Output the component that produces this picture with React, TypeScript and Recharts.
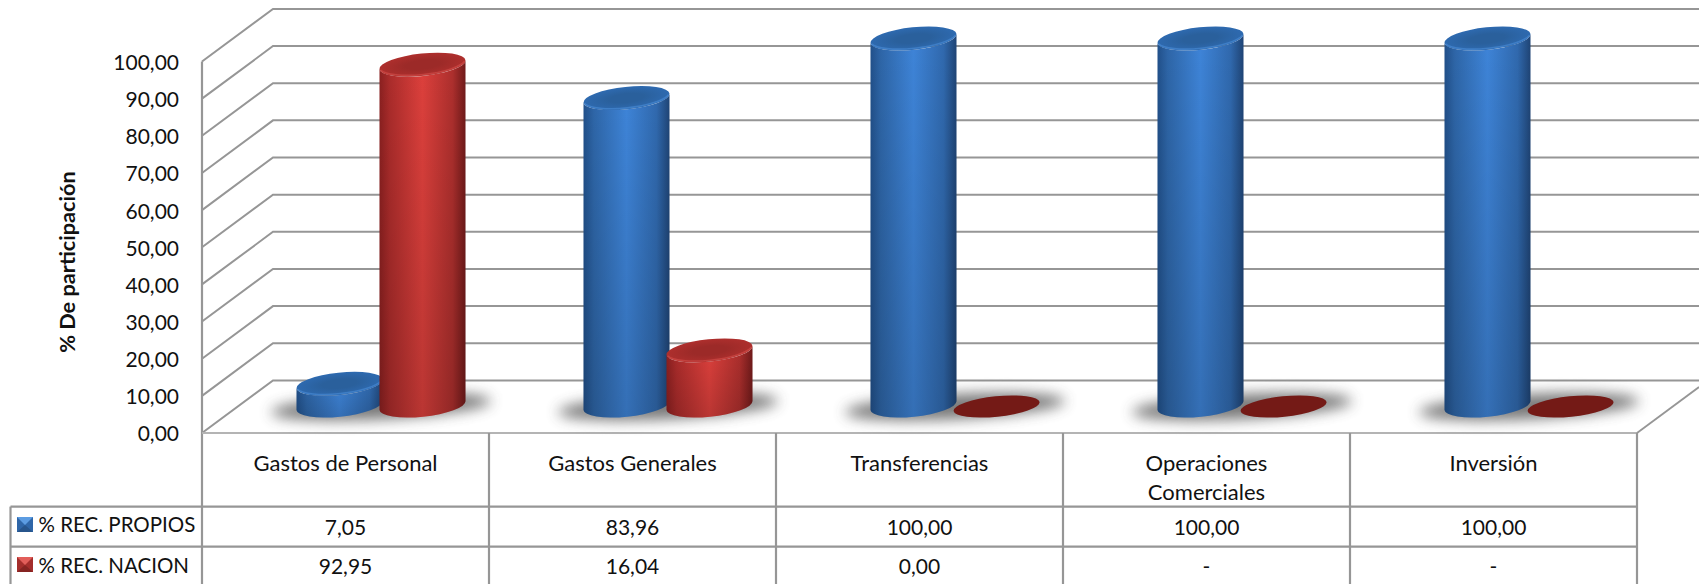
import { BarChart, Bar, XAxis, YAxis, CartesianGrid, Customized } from 'recharts';

const categories = ['Gastos de Personal', 'Gastos Generales', 'Transferencias', 'Operaciones\nComerciales', 'Inversión'];
const recPropios = [7.05, 83.96, 100, 100, 100];
const recNacion = [92.95, 16.04, 0, 0, 0];
const recPropiosLabels = ['7,05', '83,96', '100,00', '100,00', '100,00'];
const recNacionLabels = ['92,95', '16,04', '0,00', '-', '-'];
const yTicks = [0, 10, 20, 30, 40, 50, 60, 70, 80, 90, 100];

const chartData = categories.map((name, i) => ({
  name,
  propios: recPropios[i],
  nacion: recNacion[i],
}));

// chart layout
const W = 1699;
const H = 584;
const LEFT = 202;
const RIGHT = 1637;
const TOP = 61.5;
const FLOOR = 433;
const DEPTH_X = 71;
const DEPTH_Y = 52.6;
const ROW_1 = 506.6;
const ROW_2 = 546.7;
const GRID = '#969696';
const FONT = 'Lato, Carlito, Calibri, sans-serif';

// pseudo-3D wall line: side wall diagonal + back wall line
const WallLine = (props: any) => {
  const { x1, y1 } = props;
  const by = y1 - DEPTH_Y;
  return (
    <polyline
      key={props.key ?? y1}
      points={`${LEFT},${y1} ${LEFT + DEPTH_X},${by} ${W},${by}`}
      fill="none"
      stroke={GRID}
      strokeWidth={2}
    />
  );
};

function Cylinder({ x, y, width, height, color, withShadow }: any) {
  const cx = x + width / 2 + 35.5;
  const base = y + height - 27.5;
  const top = y - 23;
  const hw = width / 2;
  const tilt = 4.4;
  const rx = Math.sqrt(hw * hw + tilt * tilt);
  const ry = 11.2;
  const arc = `A${rx} ${ry} -6 0 0`;
  const side = `M${cx - hw} ${top + tilt} L${cx - hw} ${base + tilt} ${arc} ${cx + hw} ${base - tilt} L${cx + hw} ${top - tilt} ${arc.replace('0 0', '0 1')} ${cx - hw} ${top + tilt} Z`;
  const flat = height < 1;

  return (
    <g>
      {withShadow && (
        <ellipse
          cx={cx + hw - 1.5}
          cy={base + 1}
          rx={110}
          ry={12.5}
          fill="#444"
          opacity={0.72}
          filter="url(#floorBlur)"
          transform={`rotate(-3 ${cx + hw} ${base})`}
        />
      )}
      {flat ? (
        <ellipse cx={cx} cy={base + 1} rx={rx} ry={ry - 1} fill="#741a16" transform={`rotate(-6 ${cx} ${base})`} />
      ) : (
        <>
          <path d={side} fill={`url(#${color}Side)`} />
          <path d={side} fill="url(#sideFade)" />
          <ellipse cx={cx} cy={top} rx={rx} ry={ry} fill={`url(#${color}Top)`} transform={`rotate(-6 ${cx} ${top})`} />
          <path
            d={`M${cx - hw + 1} ${top + tilt + 1} A${rx} ${ry} -6 0 0 ${cx + hw - 1} ${top - tilt + 1}`}
            fill="none"
            stroke={color === 'blue' ? '#4f93e0' : '#dc5450'}
            strokeOpacity={0.5}
            strokeWidth={1.6}
          />
        </>
      )}
    </g>
  );
}

const TableOverlay = () => {
  const colW = (RIGHT - LEFT) / categories.length;
  const lines: number[] = categories.map((_, i) => LEFT + colW * (i + 1));
  const stroke = { stroke: GRID, strokeWidth: 2.2 };
  return (
    <g>
      <line x1={LEFT} y1={TOP} x2={LEFT} y2={H} {...stroke} />
      <line x1={LEFT} y1={FLOOR} x2={RIGHT} y2={FLOOR} stroke="#b4b4b4" strokeWidth={1.8} />
      <line x1={RIGHT} y1={FLOOR} x2={W} y2={FLOOR - (W - RIGHT) * (DEPTH_Y / DEPTH_X)} {...stroke} strokeWidth={1.8} />
      {lines.map((lx) => (
        <line key={lx} x1={lx} y1={FLOOR} x2={lx} y2={H} {...stroke} />
      ))}
      <line x1={10.5} y1={ROW_1} x2={RIGHT} y2={ROW_1} {...stroke} />
      <line x1={10.5} y1={ROW_2} x2={RIGHT} y2={ROW_2} {...stroke} />
      <line x1={10.5} y1={ROW_1} x2={10.5} y2={H} {...stroke} />

      <rect x={17} y={517} width={16} height={15} fill="#2f66a8" />
      <path d="M17 517 L33 517 L25 525 Z" fill="#5c9ce2" />
      <path d="M17 532 L33 532 L25 525 Z" fill="#27558c" />
      <text x={38.5} y={531.5} fontFamily={FONT} fontSize={20.5} fill="#111">% REC. PROPIOS</text>

      <rect x={17} y={557} width={16} height={15} fill="#a42e2c" />
      <path d="M17 557 L33 557 L25 565 Z" fill="#e25e5a" />
      <path d="M17 572 L33 572 L25 565 Z" fill="#862422" />
      <text x={38.5} y={572.5} fontFamily={FONT} fontSize={20.5} fill="#111">% REC. NACION</text>

      <text
        transform="translate(75 262) rotate(-90)"
        textAnchor="middle"
        fontFamily={FONT}
        fontSize={21.7}
        fontWeight={700}
        fill="#111"
      >
        % De participación
      </text>
    </g>
  );
};

const TableTick = ({ x, payload, index }: any) => {
  const parts = String(payload.value).split('\n');
  return (
    <g fontFamily={FONT} fill="#111" textAnchor="middle">
      {parts.map((p, i) => (
        <text key={p} x={x} y={471 + i * 28.5} fontSize={22}>{p}</text>
      ))}
      <text x={x} y={534.5} fontSize={21}>{recPropiosLabels[index]}</text>
      <text x={x} y={573.5} fontSize={21}>{recNacionLabels[index]}</text>
    </g>
  );
};

export default function App() {
  return (
    <div style={{ position: 'absolute', left: 0, top: 0, width: W, height: H, background: '#fff', overflow: 'hidden' }}>
      <BarChart
        width={W}
        height={H}
        data={chartData}
        barSize={86}
        barGap={-3}
        margin={{ top: TOP, right: W - RIGHT, left: 0, bottom: 0 }}
      >
        <defs>
          <linearGradient id="blueSide" x1="0" y1="0" x2="1" y2="0">
            <stop offset="0" stopColor="#21508a" />
            <stop offset="0.12" stopColor="#2e66a8" />
            <stop offset="0.5" stopColor="#3e84d8" />
            <stop offset="0.85" stopColor="#3069ae" />
            <stop offset="1" stopColor="#1f4475" />
          </linearGradient>
          <linearGradient id="redSide" x1="0" y1="0" x2="1" y2="0">
            <stop offset="0" stopColor="#8a2020" />
            <stop offset="0.12" stopColor="#ab2c2b" />
            <stop offset="0.5" stopColor="#dd403c" />
            <stop offset="0.85" stopColor="#ad2f2d" />
            <stop offset="1" stopColor="#701a1a" />
          </linearGradient>
          <linearGradient id="sideFade" x1="0" y1="0" x2="0" y2="1">
            <stop offset="0" stopColor="#000" stopOpacity={0} />
            <stop offset="1" stopColor="#000" stopOpacity={0.16} />
          </linearGradient>
          <radialGradient id="blueTop">
            <stop offset="0.4" stopColor="#2a609c" />
            <stop offset="1" stopColor="#2e6ab0" />
          </radialGradient>
          <radialGradient id="redTop">
            <stop offset="0.4" stopColor="#9c2a28" />
            <stop offset="1" stopColor="#ae2f2d" />
          </radialGradient>
          <filter id="floorBlur" x="-20%" y="-100%" width="140%" height="300%">
            <feGaussianBlur stdDeviation="7" />
          </filter>
        </defs>

        <CartesianGrid horizontal={WallLine} vertical={false} />

        <XAxis
          dataKey="name"
          height={H - FLOOR}
          interval={0}
          axisLine={false}
          tickLine={false}
          tick={<TableTick />}
        />
        <YAxis
          width={LEFT}
          domain={[0, 100]}
          ticks={yTicks}
          axisLine={false}
          tickLine={false}
          tickSize={0}
          tickMargin={23}
          tickFormatter={(v: number) => v.toFixed(2).replace('.', ',')}
          tick={{ fontFamily: FONT, fontSize: 21, fill: '#111', dy: 1 }}
        />

        <Bar dataKey="propios" isAnimationActive={false} shape={(p: any) => <Cylinder {...p} color="blue" withShadow />} />
        <Bar dataKey="nacion" isAnimationActive={false} shape={(p: any) => <Cylinder {...p} color="red" />} />

        <Customized component={TableOverlay} />
      </BarChart>
    </div>
  );
}
